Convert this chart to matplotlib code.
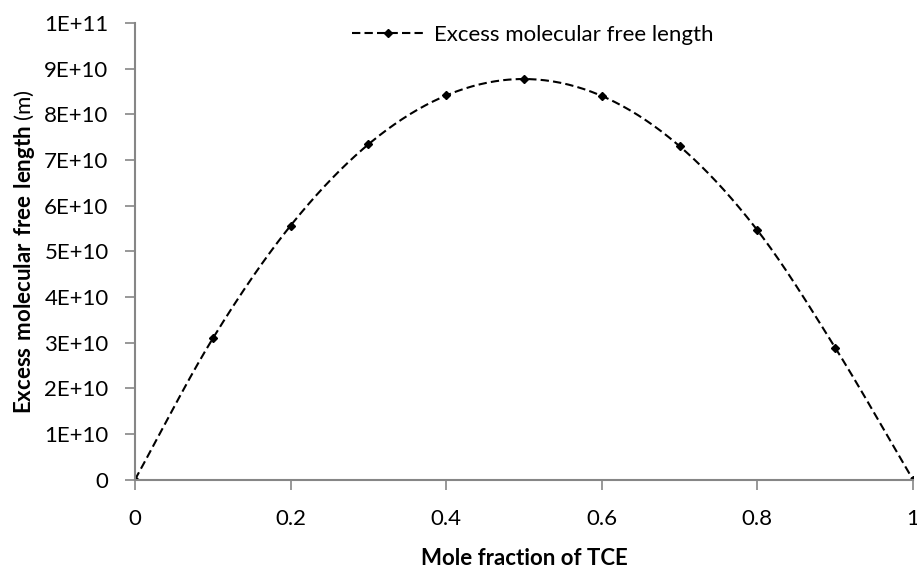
import numpy as np
import matplotlib
matplotlib.use("Agg")
import matplotlib.pyplot as plt

# datos
fraccion_tce = [0.0, 0.1, 0.2, 0.3, 0.4, 0.5, 0.6, 0.7, 0.8, 0.9, 1.0]
longitud_libre = [0.0, 3.09e10, 5.56e10, 7.34e10, 8.41e10, 8.77e10,
                  8.40e10, 7.30e10, 5.46e10, 2.89e10, 0.0]
y_ticks = [0, 1e10, 2e10, 3e10, 4e10, 5e10, 6e10, 7e10, 8e10, 9e10, 1e11]
y_tick_labels = ["0", "1E+10", "2E+10", "3E+10", "4E+10", "5E+10",
                 "6E+10", "7E+10", "8E+10", "9E+10", "1E+11"]
x_ticks = [0, 0.2, 0.4, 0.6, 0.8, 1]
x_tick_labels = ["0", "0.2", "0.4", "0.6", "0.8", "1"]

plt.rcParams['font.family'] = ['Lato', 'DejaVu Sans']
plt.rcParams['mathtext.fontset'] = 'custom'
plt.rcParams['mathtext.rm'] = 'Lato'
plt.rcParams['mathtext.bf'] = 'Lato:bold'

gris = '#868686'
tam = 16


def suavizar(xs, ys, n=30):
    # curva suave tipo Excel (Catmull-Rom) solo para dibujar la linea
    xs = np.asarray(xs, float)
    ys = np.asarray(ys, float)
    px = np.concatenate([[2 * xs[0] - xs[1]], xs, [2 * xs[-1] - xs[-2]]])
    py = np.concatenate([[2 * ys[0] - ys[1]], ys, [2 * ys[-1] - ys[-2]]])
    out_x, out_y = [], []
    t = np.linspace(0, 1, n, endpoint=False)
    for i in range(1, len(px) - 2):
        for p, out in ((px, out_x), (py, out_y)):
            p0, p1, p2, p3 = p[i - 1], p[i], p[i + 1], p[i + 2]
            out.extend(0.5 * ((2 * p1) + (-p0 + p2) * t
                              + (2 * p0 - 5 * p1 + 4 * p2 - p3) * t ** 2
                              + (-p0 + 3 * p1 - 3 * p2 + p3) * t ** 3))
    out_x.append(xs[-1])
    out_y.append(ys[-1])
    return np.array(out_x), np.array(out_y)


fig = plt.figure(figsize=(9.17, 5.71), dpi=100)
ax = fig.add_axes([0.1472, 0.160, 0.8484, 0.800])

sx, sy = suavizar(fraccion_tce, longitud_libre)
ax.plot(sx, sy, color='black', linewidth=1.5, linestyle=(0, (4, 2)))
ax.plot(fraccion_tce, longitud_libre, linestyle='none', marker='D',
        markersize=4.5, color='black')

# elemento para la leyenda
ax.plot([], [], color='black', linewidth=1.5, linestyle=(0, (4, 2)),
        marker='D', markersize=4.5, label='Excess molecular free length')

ax.set_xlim(0, 1)
ax.set_ylim(0, 1e11)
ax.set_xticks(x_ticks)
ax.set_xticklabels(x_tick_labels)
ax.set_yticks(y_ticks)
ax.set_yticklabels(y_tick_labels)

for lado in ['top', 'right']:
    ax.spines[lado].set_visible(False)
for lado in ['left', 'bottom']:
    ax.spines[lado].set_color(gris)
    ax.spines[lado].set_linewidth(1.5)
ax.tick_params(axis='both', colors=gris, labelcolor='black', length=7,
               width=1.2, labelsize=tam)
ax.tick_params(axis='y', pad=12)
ax.tick_params(axis='x', pad=14)

ax.set_xlabel('Mole fraction of TCE', fontsize=tam, fontweight='bold',
              labelpad=14)
ax.set_ylabel(r'$\bf{Excess\ molecular\ free\ length}$ (m)', fontsize=tam)
ax.yaxis.set_label_coords(-0.126, 0.5)

ax.legend(loc='center left', bbox_to_anchor=(352 / 917, 1 - 35 / 571),
          bbox_transform=fig.transFigure, frameon=False, fontsize=tam,
          handlelength=3.2, handletextpad=0.5, borderpad=0, borderaxespad=0)

fig.savefig('out.png', dpi=100)
